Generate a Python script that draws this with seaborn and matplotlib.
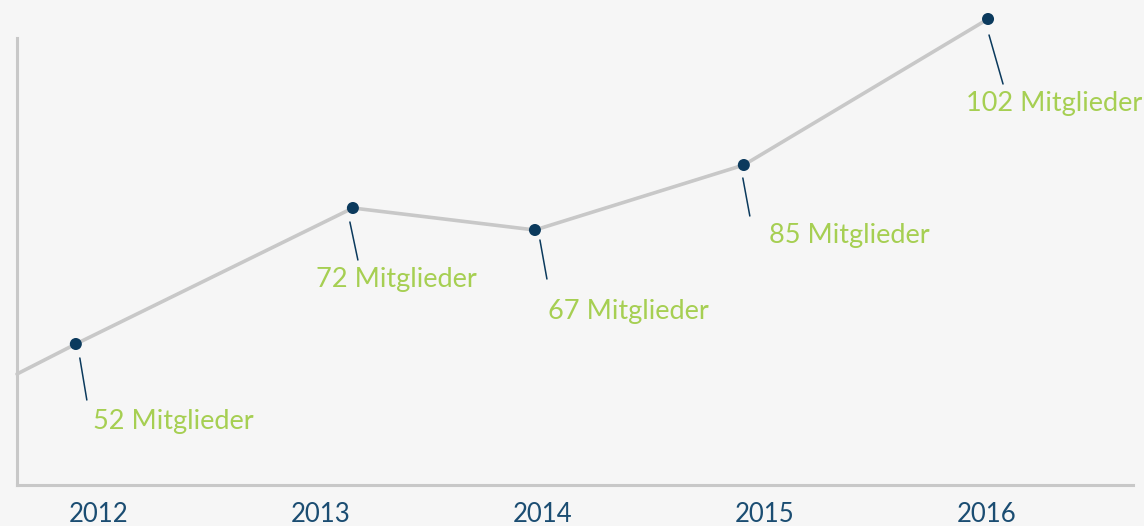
import matplotlib
matplotlib.use("Agg")
import matplotlib.pyplot as plt
import seaborn as sns
import pandas as pd

# ---- data ----
years = [2012, 2013, 2014, 2015, 2016]
point_x = [2011.896, 2013.144, 2013.964, 2014.905, 2016.005]   # position of each dot along the time axis
point_level = [141, 277, 255, 320, 466]                         # drawn height of each dot
members = [52, 72, 67, 85, 102]
label_suffix = "Mitglieder"
line_start_x = 2011.631
line_start_level = 111

# ---- layout / style (pixels) ----
leader_from = [(4, 14), (-3, 14), (5, 10), (-1, 13), (1, 16)]
leader_to = [(11, 56), (5, 52), (12, 49), (6, 51), (15, 65)]
label_at = [(17, 77), (-37, 72), (13, 82), (25, 70), (-22, 85)]

BG = "#f6f6f6"
LINE = "#c8c8c8"
DOT = "#0b3a5d"
GREEN = "#a6cf52"
NAVY = "#1b4d72"

sns.set_theme(style="white")
plt.rcParams["font.family"] = ["Lato", "DejaVu Sans"]

W, H = 1144, 526
fig = plt.figure(figsize=(W / 100, H / 100), dpi=100, facecolor=BG)
ax = fig.add_axes([17 / W, (H - 485) / H, (1133 - 17) / W, (485 - 38) / H])
ax.set_facecolor(BG)

line_df = pd.DataFrame({"x": [line_start_x] + point_x, "y": [line_start_level] + point_level})
pts_df = pd.DataFrame({"x": point_x, "y": point_level})

sns.lineplot(data=line_df, x="x", y="y", ax=ax, color=LINE, linewidth=2.6, zorder=2)
for ln in ax.get_lines():
    ln.set_clip_on(False)
sns.scatterplot(data=pts_df, x="x", y="y", ax=ax, color=DOT, s=75, edgecolor="none",
                zorder=3, clip_on=False)

ax.set_xlim(2011.631, 2016.658)
ax.set_ylim(0, 447)

for sp in ["top", "right"]:
    ax.spines[sp].set_visible(False)
for sp in ["left", "bottom"]:
    ax.spines[sp].set_color(LINE)
    ax.spines[sp].set_linewidth(2.2)
    ax.spines[sp].set_zorder(1)

ax.set_xticks(years)
ax.set_xticklabels([str(y) for y in years], color=NAVY, fontsize=18.5)
ax.tick_params(axis="x", length=0, pad=12)
ax.set_yticks([])
ax.set_xlabel("")
ax.set_ylabel("")

# annotations in pixel offsets
fig.canvas.draw()
tr = ax.transData
inv = tr.inverted()
for xv, yv, m, f, t, l in zip(point_x, point_level, members, leader_from, leader_to, label_at):
    px, py = tr.transform((xv, yv))
    a = inv.transform((px + f[0], py - f[1]))
    b = inv.transform((px + t[0], py - t[1]))
    ax.plot([a[0], b[0]], [a[1], b[1]], color=DOT, linewidth=1.1, clip_on=False, zorder=3)
    c = inv.transform((px + l[0], py - l[1]))
    ax.text(c[0], c[1], f"{m} {label_suffix}", color=GREEN, fontsize=19.5,
            ha="left", va="center", clip_on=False)

fig.savefig("out.png", dpi=100, facecolor=BG)
